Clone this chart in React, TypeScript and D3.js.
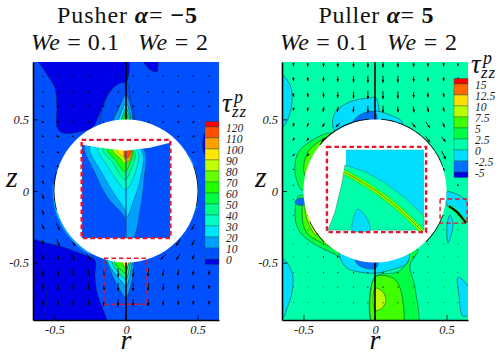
import { useEffect, useRef } from "react";
import * as d3 from "d3";

type Pt = [number, number];
type Contour = { level: number; pts: Pt[] };
type Ring = { level: number; start: number; end: number; width: number };

const SERIF = "Liberation Serif";
const EDGE = "#0c2a3a";

// colour bars
const pusherTicks = [120, 110, 100, 90, 80, 70, 60, 50, 40, 30, 20, 10, 0];
const pusherColors = ["#0000e6", "#0050ff", "#00a0ff", "#00e5ff", "#00ffc4", "#00ff88", "#00ff40", "#22ff00", "#66ff00", "#c0ff00", "#ffe600", "#ffa000", "#ff5000", "#ff0000"];
const pullerTicks = [15, 12.5, 10, 7.5, 5, 2.5, 0, -2.5, -5];
const pullerColors = ["#0000e6", "#0070ff", "#00ddff", "#00ffaa", "#00ff44", "#40ff00", "#b8ff00", "#ffdd00", "#ff6a00", "#ff0000"];

// arrow grids
const pusherArrowR = [-0.58, -0.475, -0.37, -0.26, -0.155, -0.055, 0.05, 0.155, 0.26, 0.365, 0.47, 0.58];
const pusherArrowZ = [0.8, 0.69, 0.59, 0.48, 0.38, 0.27, 0.17, 0.06, -0.04, -0.15, -0.25, -0.36, -0.46, -0.57, -0.67, -0.78];
const pusherU = [
  [0.1, 0.1, 0.1, 0.1, 0.05, 0.05, 0.05, 0, -0.05, 0.1, 0.1, 0.1],
  [0.1, 0.1, 0.1, 0.1, 0.05, 0.05, 0.05, -0.05, -0.05, -0.1, 0.1, 0.1],
  [0.15, 0.15, 0.1, 0.1, 0.05, 0.05, -0.05, -0.05, -0.05, -0.1, -0.1, -0.1],
  [0.2, 0.2, 0.15, 0.1, 0.1, 0, 0, -0.1, -0.1, -0.15, -0.15, -0.1],
  [0.2, 0.25, 0.2, 0.2, 0, 0, 0, 0, -0.2, -0.2, -0.2, -0.1],
  [0.15, 0.2, 0, 0, 0, 0, 0, 0, 0, 0, -0.2, -0.1],
  [0.15, 0.15, 0, 0, 0, 0, 0, 0, 0, 0, -0.15, -0.1],
  [0.15, 0.1, 0, 0, 0, 0, 0, 0, 0, 0, -0.1, -0.1],
  [0.2, 0.2, 0, 0, 0, 0, 0, 0, 0, 0, -0.2, -0.1],
  [0.2, 0.3, 0, 0, 0, 0, 0, 0, 0, 0, -0.25, -0.15],
  [0.25, 0.35, 0, 0, 0, 0, 0, 0, 0, 0, -0.35, -0.2],
  [0.1, 0.3, 0.4, 0, 0, 0, 0, 0, 0, -0.4, -0.3, -0.1],
  [0.05, 0.1, 0.3, 0.4, 0, 0, 0, 0, -0.5, -0.4, -0.2, -0.05],
  [0, 0.05, 0.1, 0.15, 0.1, 0.05, -0.05, -0.1, -0.15, -0.1, -0.05, 0],
  [0, 0, 0.05, 0.05, 0.05, 0.02, -0.02, -0.05, -0.05, -0.05, 0, 0],
  [0, 0, 0, 0, 0, 0, 0, 0, 0, 0, 0, 0],
];
const pusherW = [
  [-0.1, -0.1, -0.1, -0.1, -0.1, -0.1, -0.1, -0.1, -0.1, -0.1, -0.1, -0.1],
  [-0.12, -0.12, -0.12, -0.12, -0.12, -0.12, -0.12, -0.12, -0.12, -0.12, -0.12, -0.12],
  [-0.15, -0.15, -0.15, -0.15, -0.15, -0.15, -0.15, -0.15, -0.15, -0.15, -0.15, -0.15],
  [-0.15, -0.15, -0.15, -0.15, -0.15, 0, 0, -0.15, -0.15, -0.15, -0.15, -0.15],
  [-0.15, -0.15, -0.1, -0.1, 0, 0, 0, 0, -0.1, -0.1, -0.15, -0.15],
  [-0.15, -0.15, 0, 0, 0, 0, 0, 0, 0, 0, -0.1, -0.15],
  [-0.2, -0.2, 0, 0, 0, 0, 0, 0, 0, 0, -0.1, -0.1],
  [-0.3, -0.3, 0, 0, 0, 0, 0, 0, 0, 0, -0.1, -0.15],
  [-0.5, -0.5, 0, 0, 0, 0, 0, 0, 0, 0, -0.2, -0.2],
  [-0.5, -0.7, 0, 0, 0, 0, 0, 0, 0, 0, -0.5, -0.3],
  [-0.5, -0.7, 0, 0, 0, 0, 0, 0, 0, 0, -0.6, -0.4],
  [-0.5, -0.7, -0.7, 0, 0, 0, 0, 0, 0, -0.7, -0.6, -0.4],
  [-0.6, -0.6, -0.7, -0.7, 0, 0, 0, 0, -0.5, -0.6, -0.5, -0.4],
  [-0.6, -0.65, -0.7, -0.75, -0.8, -0.9, -0.9, -0.8, -0.7, -0.6, -0.5, -0.45],
  [-0.55, -0.6, -0.65, -0.7, -0.75, -0.8, -0.8, -0.75, -0.65, -0.5, -0.45, -0.4],
  [-0.5, -0.55, -0.6, -0.6, -0.65, -0.7, -0.7, -0.65, -0.55, -0.45, -0.4, -0.35],
];

const pullerArrowR = [-0.57, -0.47, -0.36, -0.26, -0.15, -0.05, 0.056, 0.16, 0.27, 0.37, 0.48, 0.58];
const pullerArrowZ = [0.88, 0.78, 0.67, 0.57, 0.46, 0.36, 0.25, 0.15, 0.04, -0.06, -0.17, -0.27, -0.37, -0.46, -0.57, -0.67, -0.78];
const pullerU = [
  [0, 0, 0, 0, 0, 0, 0, 0, 0, 0, 0, 0],
  [0.05, 0.05, 0, 0, 0, 0, 0, 0, 0, 0, 0, -0.05],
  [0.1, 0.05, 0.05, 0, 0, 0, 0, 0, 0, 0.05, 0.05, 0.05],
  [-0.05, -0.05, -0.1, -0.1, -0.05, 0, 0, 0.05, 0.1, 0.1, 0.1, 0.1],
  [-0.1, -0.15, -0.2, -0.4, 0, 0, 0, 0, 0.4, 0.4, 0.2, 0.15],
  [-0.15, -0.2, -0.4, 0, 0, 0, 0, 0, 0, 0.45, 0.4, 0.25],
  [-0.15, -0.2, 0, 0, 0, 0, 0, 0, 0, 0, 0.4, 0.2],
  [-0.1, -0.15, 0, 0, 0, 0, 0, 0, 0, 0, 0.15, 0.1],
  [-0.05, -0.05, 0, 0, 0, 0, 0, 0, 0, 0, 0.05, 0.1],
  [0.05, 0.05, 0, 0, 0, 0, 0, 0, 0, 0, -0.05, 0.1],
  [0.05, 0.05, 0, 0, 0, 0, 0, 0, 0, 0, -0.05, -0.05],
  [0.05, 0.05, 0, 0, 0, 0, 0, 0, 0, 0, -0.05, -0.05],
  [0.05, 0.05, 0.08, 0, 0, 0, 0, 0, 0, -0.08, -0.05, -0.05],
  [0.02, 0.05, 0.1, 0.15, 0, 0, 0, 0, -0.1, -0.05, -0.02, -0.02],
  [0, 0.02, 0.05, 0.08, 0.05, 0.02, -0.02, -0.05, -0.05, -0.02, 0, 0],
  [0, 0, 0.02, 0.02, 0.02, 0, 0, -0.02, -0.02, 0, 0, 0],
  [0, 0, 0, 0, 0, 0, 0, 0, 0, 0, 0, 0],
];
const pullerW = [
  [-0.3, -0.35, -0.4, -0.45, -0.5, -0.55, -0.55, -0.5, -0.4, -0.35, -0.3, -0.25],
  [-0.35, -0.4, -0.5, -0.55, -0.65, -0.7, -0.7, -0.65, -0.55, -0.45, -0.4, -0.35],
  [-0.35, -0.45, -0.55, -0.6, -0.7, -0.8, -0.8, -0.7, -0.6, -0.5, -0.45, -0.4],
  [-0.3, -0.4, -0.5, -0.55, -0.6, -0.7, -0.7, -0.6, -0.6, -0.55, -0.45, -0.4],
  [-0.3, -0.35, -0.4, -0.45, 0, 0, 0, 0, -0.5, -0.6, -0.45, -0.35],
  [-0.25, -0.3, -0.4, 0, 0, 0, 0, 0, 0, -0.6, -0.5, -0.35],
  [-0.2, -0.25, 0, 0, 0, 0, 0, 0, 0, 0, -0.8, -0.3],
  [-0.1, -0.15, 0, 0, 0, 0, 0, 0, 0, 0, -0.3, -0.15],
  [-0.1, -0.05, 0, 0, 0, 0, 0, 0, 0, 0, -0.1, -0.15],
  [0.05, 0.05, 0, 0, 0, 0, 0, 0, 0, 0, 0.1, 0.05],
  [0.05, 0.05, 0, 0, 0, 0, 0, 0, 0, 0, 0.05, 0.05],
  [0.05, 0.05, 0, 0, 0, 0, 0, 0, 0, 0, 0.05, 0.05],
  [0.05, 0.05, 0.08, 0, 0, 0, 0, 0, 0, 0.08, 0.05, 0.05],
  [0.05, 0.05, 0.08, 0.1, 0, 0, 0, 0, 0.1, 0.08, 0.05, 0.05],
  [0.05, 0.05, 0.08, 0.08, 0.1, 0.1, 0.1, 0.1, 0.08, 0.05, 0.05, 0.05],
  [0.05, 0.05, 0.05, 0.08, 0.08, 0.1, 0.1, 0.08, 0.05, 0.05, 0.05, 0.05],
  [0.05, 0.05, 0.05, 0.05, 0.08, 0.08, 0.08, 0.08, 0.05, 0.05, 0.05, 0.05],
];

const zip = (r: number[], z: number[]): Pt[] => r.map((v, i) => [v, z[i]]);

// contours of the pusher, lowest first
const pusherContours: Contour[] = [
  { level: -1, pts: zip([-0.7, -0.615, -0.552, -0.497, -0.483, -0.483, -0.448, -0.322, -0.231, -0.182, -0.133, -0.063, 0, 0, -0.3], [0.98, 0.902, 0.811, 0.72, 0.587, 0.448, 0.406, 0.413, 0.448, 0.545, 0.657, 0.741, 0.755, 0.98, 1]) },
  { level: -1, pts: zip([0.119, 0.168, 0.217, 0.224, 0.217], [0.92, 0.846, 0.832, 0.867, 0.92]) },
  { level: -1, pts: zip([0.552, 0.538, 0.538, 0.552, 0.566, 0.566], [0.406, 0.357, 0.287, 0.252, 0.287, 0.392]) },
  { level: -1, pts: zip([-0.72, -0.552, -0.441, -0.322, -0.217, -0.217, -0.203, -0.133, -0.12, -0.72], [-0.343, -0.364, -0.392, -0.434, -0.483, -0.587, -0.706, -0.902, -0.98, -0.98]) },
  { level: -1, pts: zip([-0.72, -0.65, -0.587, -0.552, -0.58, -0.6, -0.72], [-0.45, -0.503, -0.608, -0.748, -0.902, -0.98, -0.98]) },
  { level: 5, pts: zip([-0.182, -0.133, -0.063, 0, 0.035, 0.063, 0.063, -0.182], [0.497, 0.657, 0.741, 0.755, 0.636, 0.483, 0.39, 0.39]) },
  { level: 15, pts: zip([0, -0.056, -0.091, -0.091, 0.049, 0.049, 0.035], [0.671, 0.566, 0.483, 0.39, 0.39, 0.483, 0.58]) },
  { level: 25, pts: zip([0, -0.035, -0.056, -0.056, 0.035, 0.035, 0.021], [0.615, 0.545, 0.483, 0.39, 0.39, 0.483, 0.566]) },
  { level: 45, pts: zip([0, -0.021, -0.035, -0.035, 0.028, 0.028, 0.014], [0.58, 0.531, 0.483, 0.39, 0.39, 0.483, 0.552]) },
  { level: 65, pts: zip([0, -0.014, -0.021, 0.021, 0.01], [0.552, 0.517, 0.39, 0.39, 0.524]) },
  { level: 15, pts: zip([-0.147, -0.112, -0.07, 0, 0.035, 0.056, 0.056, -0.147], [-0.469, -0.552, -0.643, -0.741, -0.657, -0.497, -0.378, -0.378]) },
  { level: 25, pts: zip([-0.126, -0.07, -0.021, 0, 0.028, 0.042, 0.042, -0.126], [-0.497, -0.587, -0.643, -0.671, -0.587, -0.483, -0.378, -0.378]) },
  { level: 45, pts: zip([-0.098, -0.056, -0.021, 0, 0.021, 0.028, -0.098], [-0.497, -0.566, -0.601, -0.615, -0.552, -0.378, -0.378]) },
  { level: 65, pts: zip([-0.077, -0.035, -0.007, 0.014, 0.014, -0.077], [-0.503, -0.552, -0.573, -0.517, -0.378, -0.378]) },
  { level: 95, pts: zip([-0.028, 0, 0.021, 0.021, -0.028], [-0.497, -0.538, -0.497, -0.378, -0.378]) },
];
const pusherRings: Ring[] = [
  { level: 15, start: -150, end: -85, width: 0.014 },
  { level: 25, start: -112, end: -85, width: 0.008 },
  { level: 15, start: 62, end: 105, width: 0.008 },
];
const pusherEdges = [[-105, -75], [70, 102]];
const pusherInset: Contour[] = [
  { level: 15, pts: zip([-0.287, -0.217, -0.126, -0.007, 0, 0.049, 0.098, 0.126, 0.126, -0.007], [0.322, 0.126, -0.049, -0.189, -0.329, -0.329, -0.133, 0.077, 0.287, 0.357]) },
  { level: 25, pts: zip([-0.252, -0.168, -0.077, -0.007, 0.007, 0.049, 0.098, 0.112, -0.007], [0.308, 0.126, -0.028, -0.133, -0.182, -0.077, 0.077, 0.273, 0.357]) },
  { level: 35, pts: zip([-0.196, -0.126, -0.056, -0.007, 0.014, 0.063, 0.084, -0.056], [0.301, 0.168, 0.063, 0.007, 0.021, 0.126, 0.273, 0.357]) },
  { level: 45, pts: zip([-0.161, -0.091, -0.007, 0.028, 0.063, -0.056], [0.294, 0.196, 0.077, 0.133, 0.273, 0.357]) },
  { level: 65, pts: zip([-0.126, -0.063, -0.007, 0.028, 0.049, -0.056], [0.287, 0.203, 0.133, 0.196, 0.273, 0.357]) },
  { level: 85, pts: zip([-0.091, -0.042, -0.007, 0.021, 0.042, -0.056], [0.28, 0.231, 0.196, 0.231, 0.273, 0.357]) },
  { level: 95, pts: zip([-0.063, -0.007, 0.021, -0.007], [0.28, 0.238, 0.266, 0.357]) },
  { level: 105, pts: zip([-0.007, -0.007, 0.014, 0.042], [0.301, 0.217, 0.203, 0.273]) },
  { level: 115, pts: zip([-0.007, -0.007, 0.021, 0.035], [0.301, 0.231, 0.238, 0.287]) },
];
const pusherCap = zip([-0.322, -0.308, -0.182, -0.007, 0.168, 0.308, 0.322], [0.371, 0.322, 0.301, 0.28, 0.301, 0.336, 0.371]);
const pusherInsetBox = [-0.31, 0.31, 0.357, -0.329];
const pusherWakeBox = [-0.154, 0.147, -0.469, -0.79];

// contours of the puller
const pullerContours: Contour[] = [
  { level: -1, pts: zip([-0.72, -0.615, -0.58, -0.594, -0.643, -0.72], [0.86, 0.776, 0.685, 0.545, 0.448, 0.43]) },
  { level: -1, pts: zip([-0.294, -0.28, -0.175, -0.035, 0.007, 0.007, -0.245], [0.448, 0.545, 0.622, 0.65, 0.65, 0.42, 0.385]) },
  { level: -1, pts: zip([0, 0.105, 0.189, 0.189, 0], [0.552, 0.531, 0.483, 0.427, 0.427]) },
  { level: -4, pts: zip([-0.154, -0.105, 0, 0, -0.175], [0.483, 0.531, 0.552, 0.427, 0.427]) },
  { level: 4, pts: zip([-0.559, -0.538, -0.434, -0.301, -0.245, -0.455, -0.51], [0.133, 0.266, 0.357, 0.406, 0.357, 0.042, 0.007]) },
  { level: 6, pts: zip([-0.497, -0.469, -0.371, -0.28, -0.28, -0.441], [0.133, 0.273, 0.357, 0.392, 0.287, 0.042]) },
  { level: 4, pts: zip([-0.559, -0.524, -0.434, -0.294, -0.21, -0.21, -0.524], [-0.182, -0.287, -0.364, -0.434, -0.469, -0.343, -0.028]) },
  { level: 6, pts: zip([-0.51, -0.476, -0.364, -0.28, -0.385, -0.49], [-0.154, -0.294, -0.364, -0.399, -0.238, -0.063]) },
  { level: 9, pts: zip([-0.49, -0.469, -0.413, -0.399, -0.483], [-0.119, -0.217, -0.308, -0.238, -0.063]) },
  { level: -4, pts: zip([-0.56, -0.524, -0.49, -0.49, -0.538], [-0.077, -0.049, -0.056, -0.091, -0.098]) },
  { level: 4, pts: zip([0.301, 0.245, 0.28, 0.287, 0, 0, 0.154, 0.224, 0.245], [-0.413, -0.517, -0.678, -0.98, -0.98, -0.601, -0.566, -0.503, -0.413]) },
  { level: 6, pts: zip([0, 0.126, 0.175, 0.182, 0], [-0.601, -0.608, -0.678, -0.98, -0.98]) },
  { level: 9, pts: zip([0, 0.056, 0.077, 0.049, 0], [-0.678, -0.706, -0.762, -0.818, -0.832]) },
  { level: -1, pts: zip([-0.245, -0.196, -0.105, 0.007, 0.105, 0.224, 0.231, -0.245], [-0.462, -0.538, -0.566, -0.573, -0.552, -0.503, -0.413, -0.378]) },
  { level: -4, pts: zip([-0.133, -0.07, 0.007, 0.021, 0.021, -0.133], [-0.497, -0.538, -0.538, -0.497, -0.413, -0.413]) },
  { level: -1, pts: zip([-0.72, -0.65, -0.58, -0.58, -0.615, -0.643, -0.72], [-0.469, -0.469, -0.566, -0.706, -0.818, -0.888, -0.92]) },
  { level: -1, pts: zip([0.58, 0.629, 0.68, 0.68, 0.615, 0.587], [-0.601, -0.636, -0.727, -0.846, -0.874, -0.727]) },
  { level: -1, pts: zip([0.503, 0.524, 0.545, 0.51], [-0.238, -0.168, -0.238, -0.364]) },
  { level: -1, pts: zip([0.503, 0.615, 0.68, 0.68, 0.56, 0.503], [-0.007, -0.049, -0.133, -0.231, -0.147, -0.098]) },
];
const pullerRings: Ring[] = [];
const pullerEdges = [[-50, -5], [5, 70], [110, 135], [-135, -115]];
const pullerStreakSide = zip([0.517, 0.573, 0.636], [-0.105, -0.147, -0.224]);
const pullerInset: Contour[] = [
  { level: -1, pts: zip([-0.203, 0.343, 0.343, 0.21, 0.07, -0.07, -0.203], [0.287, 0.287, -0.175, -0.049, 0.056, 0.133, 0.175]) },
  { level: 1, pts: zip([-0.21, -0.231, -0.28, -0.329, 0.343, 0.343, 0.21, 0.07, -0.07], [0.182, 0.056, -0.147, -0.273, -0.273, -0.175, -0.049, 0.056, 0.133]) },
  { level: -1, pts: zip([-0.154, -0.14, -0.119, -0.07, -0.035], [-0.287, -0.154, -0.126, -0.168, -0.273]) },
];
const pullerStreak = zip([-0.217, -0.035, 0.154, 0.329], [0.133, 0.028, -0.112, -0.28]);
const pullerInsetBox = [-0.336, 0.357, 0.308, -0.287];
const pullerSideBox = [0.455, 0.644, -0.056, -0.224];

function Arrows({ x, y, rs, zs, us, ws }: any) {
  const len = d3.scaleLinear().domain([0, 1]).range([0, 10]);
  const items: any[] = [];
  zs.forEach((z: number, i: number) =>
    rs.forEach((r: number, j: number) => {
      const dx = len(us[i][j]);
      const dy = -len(ws[i][j]);
      const n = Math.hypot(dx, dy);
      if (n === 0) return;
      const x0 = x(r) - dx / 2;
      const y0 = y(z) - dy / 2;
      const ux = dx / n;
      const uy = dy / n;
      const tipX = x0 + dx;
      const tipY = y0 + dy;
      const hl = Math.min(3, n);
      const hw = hl * 0.42;
      const head = d3.path();
      head.moveTo(tipX, tipY);
      head.lineTo(tipX - hl * ux + hw * uy, tipY - hl * uy - hw * ux);
      head.lineTo(tipX - hl * ux - hw * uy, tipY - hl * uy + hw * ux);
      head.closePath();
      items.push(
        <g key={`${i}-${j}`}>
          <line x1={x0} y1={y0} x2={tipX} y2={tipY} stroke="#000" strokeWidth={0.9} />
          <path d={head.toString()} fill="#000" />
        </g>
      );
    })
  );
  return <g>{items}</g>;
}

function Panel(props: any) {
  const { id, left, base, ticks, colors, contours, rings, edges, inset, insetBox, smallBox, title, arrows, tauY, children, insetRound, insetChildren } = props;
  const axRef = useRef<SVGGElement>(null);
  const x = d3.scaleLinear().domain([-0.65, 0.65]).range([left, left + 186]);
  const y = d3.scaleLinear().domain([-0.9, 0.9]).range([320, 62]);
  const color = d3.scaleThreshold<number, string>().domain([...ticks].reverse()).range(colors);
  const toLine = d3.line<Pt>().x((d) => x(d[0])).y((d) => y(d[1]));
  const round = toLine.curve(d3.curveCatmullRomClosed.alpha(0.5));
  const roundPath = (p: Pt[]) => round(p) as string;
  const sharp = d3.line<Pt>().x((d) => x(d[0])).y((d) => y(d[1])).curve(d3.curveLinearClosed);
  const open = d3.line<Pt>().x((d) => x(d[0])).y((d) => y(d[1])).curve(d3.curveCatmullRom);
  const radius = x(0.5) - x(0);
  const arc = d3.arc();

  useEffect(() => {
    const g = d3.select(axRef.current);
    g.selectAll("*").remove();
    const fmt = (d: any) => (d === 0 ? "0" : String(d));
    const bottom = g.append("g").attr("transform", "translate(0,320)");
    bottom.call(d3.axisBottom(x).tickValues(d3.range(-6, 7).map((d) => d / 10)).tickSize(-3).tickFormat(() => "").tickSizeOuter(0));
    bottom.call(d3.axisBottom(x).tickValues([-0.5, 0, 0.5]).tickSize(-5).tickPadding(5).tickSizeOuter(0).tickFormat(fmt) as any);
    const side = g.append("g").attr("transform", `translate(${left},0)`);
    side.call(d3.axisLeft(y).tickValues(d3.range(-8, 9).map((d) => d / 10)).tickSize(-3).tickFormat(() => "").tickSizeOuter(0));
    side.call(d3.axisLeft(y).tickValues([-0.5, 0, 0.5]).tickSize(-5).tickPadding(4).tickSizeOuter(0).tickFormat(fmt) as any);
    g.selectAll("path.domain").attr("stroke-width", 1.6).attr("stroke", "#000");
    g.selectAll("line").attr("stroke", "#000").attr("stroke-width", 0.8);
    g.selectAll("text").style("font-family", SERIF).style("font-style", "italic").style("font-size", "12.5px").attr("fill", "#222");
  }, []);

  const barLeft = left + 172;
  const bar = d3.scaleLinear().domain([ticks[ticks.length - 1], ticks[0]]).range([base + (id === "pull" ? 88 : 132), base]);
  const step = Math.abs(bar(ticks[1]) - bar(ticks[0]));
  const bands = [...colors].reverse();
  const ts = { fontFamily: SERIF };

  return (
    <g>
      <clipPath id={`frame-${id}`}>
        <rect x={left} y={62} width={186} height={258} />
      </clipPath>
      <clipPath id={`box-${id}`}>
        <rect x={x(insetBox[0])} y={y(insetBox[2])} width={x(insetBox[1]) - x(insetBox[0])} height={y(insetBox[3]) - y(insetBox[2])} />
      </clipPath>
      <g clipPath={`url(#frame-${id})`}>
        <rect x={left} y={62} width={186} height={258} fill={color(props.bgLevel)} />
        {contours.map((c: Contour, i: number) => (
          <path key={i} d={roundPath(c.pts)} fill={color(c.level)} stroke={EDGE} strokeWidth={0.5} />
        ))}
        <line x1={x(0)} x2={x(0)} y1={62} y2={320} stroke="#000" strokeWidth={1.6} />
        {children && children(x, y, open)}
        <Arrows x={x} y={y} {...arrows} />
      </g>
      <g transform={`translate(${x(0)},${y(0)})`}>
        {rings.map((r: Ring, i: number) => (
          <path
            key={i}
            d={arc({ innerRadius: radius, outerRadius: radius + (x(r.width) - x(0)), startAngle: (r.start * Math.PI) / 180, endAngle: (r.end * Math.PI) / 180 }) as string}
            fill={color(r.level)}
          />
        ))}
        {edges.map((e: number[], i: number) => (
          <path
            key={i}
            d={arc({ innerRadius: radius - 0.2, outerRadius: radius + 0.9, startAngle: (e[0] * Math.PI) / 180, endAngle: (e[1] * Math.PI) / 180 }) as string}
            fill="#000"
          />
        ))}
        <circle r={radius} fill="#fff" />
      </g>
      <g clipPath={`url(#box-${id})`}>
        {insetRound && <rect x={x(insetBox[0])} y={y(insetBox[2])} width={x(insetBox[1]) - x(insetBox[0])} height={y(insetBox[3]) - y(insetBox[2])} fill={color(5)} />}
        {inset.map((c: Contour, i: number) => (
          <path
            key={i}
            d={(insetRound || i === 2 ? roundPath(c.pts) : sharp(c.pts)) as string}
            fill={color(c.level)}
            stroke={i === 0 && !insetRound ? "none" : EDGE}
            strokeWidth={0.3}
          />
        ))}
        {insetChildren && insetChildren(x, y, open, sharp)}
      </g>
      <rect x={x(insetBox[0])} y={y(insetBox[2])} width={x(insetBox[1]) - x(insetBox[0])} height={y(insetBox[3]) - y(insetBox[2])} fill="none" stroke="#e4142c" strokeWidth={2.4} strokeDasharray="4.5 3" />
      <rect x={x(smallBox[0])} y={y(smallBox[2])} width={x(smallBox[1]) - x(smallBox[0])} height={y(smallBox[3]) - y(smallBox[2])} fill="none" stroke="#e4142c" strokeWidth={1.4} strokeDasharray="4.5 3" />
      <g ref={axRef} />

      {bands.map((c: string, i: number) => {
        const top = i === 0 ? bar(ticks[0]) - 5.5 : bar(ticks[i - 1]);
        const h = i === 0 || i === bands.length - 1 ? 5.5 : step;
        return <rect key={c} x={barLeft} y={top} width={14} height={h} fill={c} stroke="#0a5a4a" strokeWidth={0.4} />;
      })}
      {ticks.map((t: number) => (
        <text key={t} x={barLeft + 21} y={bar(t) + 5} style={ts} fontStyle="italic" fontSize={11.5} fill="#222">
          {t}
        </text>
      ))}

      <text x={x(0) + 1} y={23} textAnchor="middle" style={ts} fontSize={24} fill="#111" textLength={props.titleWidth}>
        {title[0]} <tspan fontWeight="bold" fontStyle="italic">α</tspan>= <tspan fontWeight="bold">{title[1]}</tspan>
      </text>
      <text x={left - 2} y={50} style={ts} fontSize={24} fill="#111" textLength={88}>
        <tspan fontStyle="italic">We</tspan> = 0.1
      </text>
      <text x={left + 105} y={50} style={ts} fontSize={24} fill="#111" textLength={70}>
        <tspan fontStyle="italic">We</tspan> = 2
      </text>
      <text x={left - 27} y={187} style={ts} fontStyle="italic" fontSize={30} fill="#111">z</text>
      <text x={x(0)} y={349} textAnchor="middle" style={ts} fontStyle="italic" fontSize={28} fill="#111">r</text>
      <text x={left + 189} y={tauY} style={ts} fontStyle="italic" fontSize={27} fill="#111">τ</text>
      <text x={left + 201} y={tauY - 9} style={ts} fontStyle="italic" fontSize={18} fill="#111">p</text>
      <text x={left + 199} y={tauY + 5} style={ts} fontStyle="italic" fontSize={17} letterSpacing={1} fill="#111">zz</text>
    </g>
  );
}

export default function App() {
  return (
    <svg width={499} height={355} style={{ position: "fixed", left: 0, top: 0 }}>
      <rect width={499} height={355} fill="#fff" />
      <Panel
        id="push"
        left={33}
        base={127}
        bgLevel={5}
        ticks={pusherTicks}
        colors={pusherColors}
        contours={pusherContours}
        rings={pusherRings}
        edges={pusherEdges}
        inset={pusherInset}
        insetBox={pusherInsetBox}
        smallBox={pusherWakeBox}
        insetRound
        title={["Pusher", "−5"]}
        titleWidth={140}
        tauY={112}
        arrows={{ rs: pusherArrowR, zs: pusherArrowZ, us: pusherU, ws: pusherW }}
        insetChildren={(x: any, y: any, _open: any, sharp: any) => (
          <g>
            <line x1={x(0)} x2={x(0)} y1={y(0.3)} y2={y(-0.33)} stroke="#1c3f8c" strokeWidth={1} />
            <path d={sharp(pusherCap)} fill="#fff" />
          </g>
        )}
      />
      <Panel
        id="pull"
        left={282}
        base={84}
        bgLevel={1}
        ticks={pullerTicks}
        colors={pullerColors}
        contours={pullerContours}
        rings={pullerRings}
        edges={pullerEdges}
        inset={pullerInset}
        insetBox={pullerInsetBox}
        smallBox={pullerSideBox}
        title={["Puller", "5"]}
        titleWidth={115}
        tauY={73}
        arrows={{ rs: pullerArrowR, zs: pullerArrowZ, us: pullerU, ws: pullerW }}
        children={(_x: any, _y: any, open: any) => (
          <g>
            <path d={open(pullerStreakSide)} fill="none" stroke="#00ff44" strokeWidth={4} />
            <path d={open(pullerStreakSide)} fill="none" stroke="#000" strokeWidth={2} />
          </g>
        )}
        insetChildren={(_x: any, _y: any, open: any) => (
          <g fill="none">
            <path d={open(pullerStreak)} stroke="#00ff44" strokeWidth={6} />
            <path d={open(pullerStreak)} stroke="#40ff00" strokeWidth={4} />
            <path d={open(pullerStreak)} stroke="#b8ff00" strokeWidth={2.4} />
            <path d={open(pullerStreak)} stroke="#4a6a10" strokeWidth={0.8} />
          </g>
        )}
      />
    </svg>
  );
}
